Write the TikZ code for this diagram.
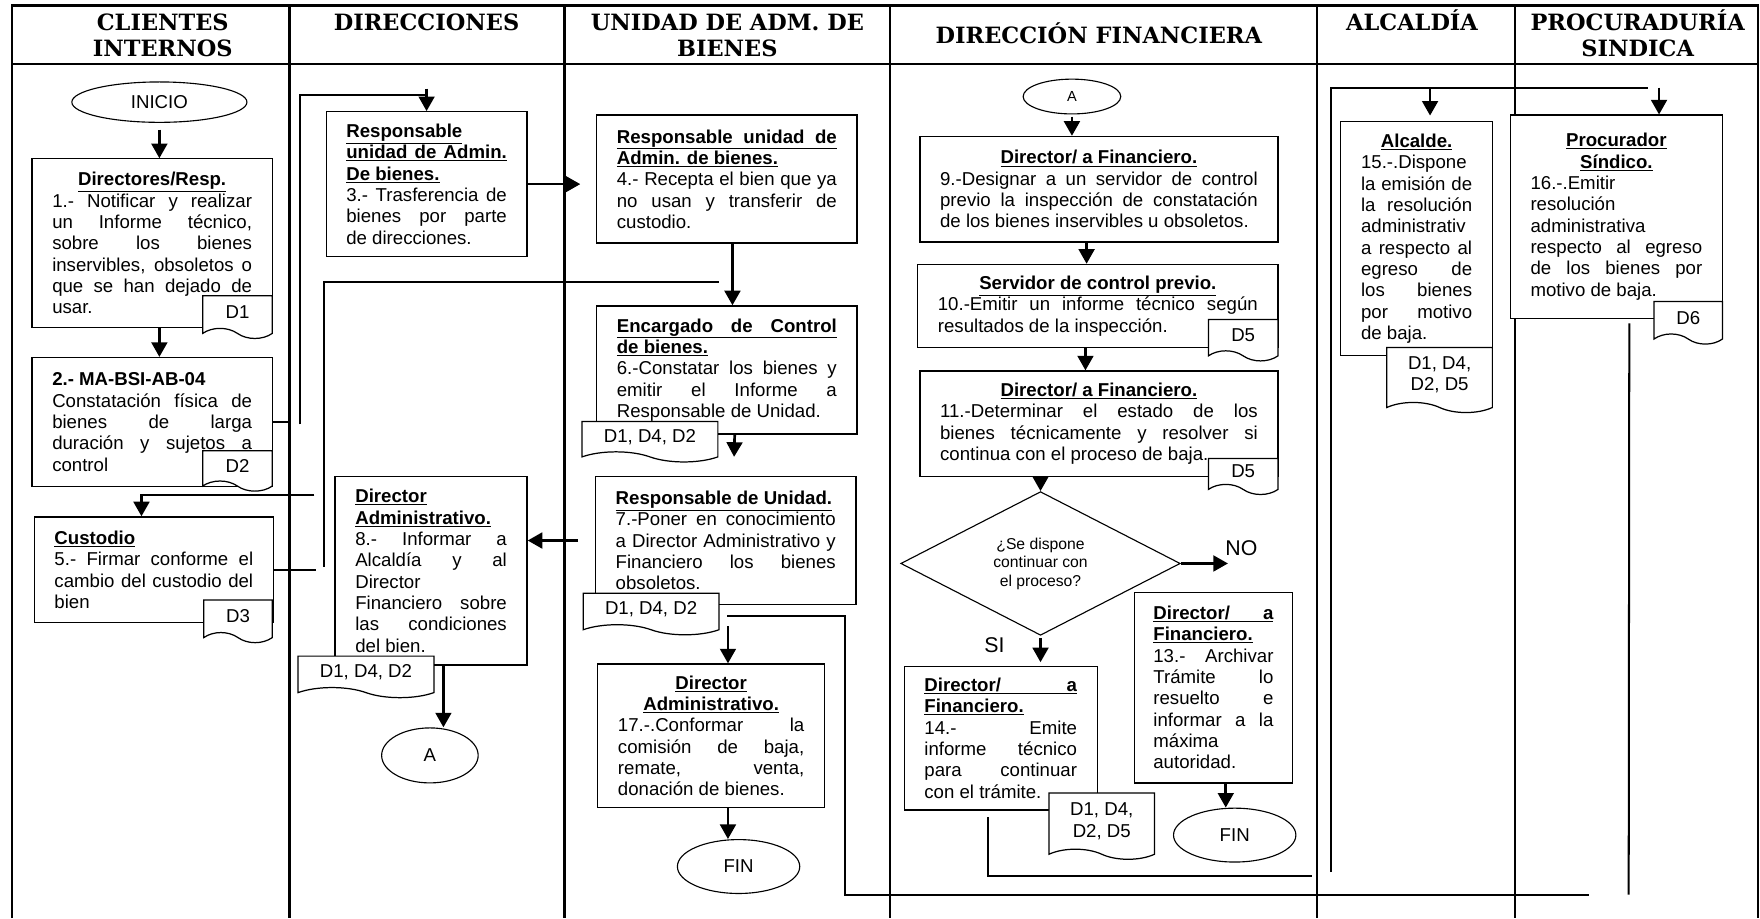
\documentclass[tikz,border=0pt]{standalone}
\usepackage{fontspec}
\setmainfont{Liberation Sans}
\newfontfamily\cabfont{DejaVu Serif}
\usetikzlibrary{
    arrows.meta,
    positioning,
    calc,
    shapes
}
\newcommand{\letra}{\fontsize{16.6pt}{19pt}\selectfont}
\newcommand{\tit}[1]{\underline{\textbf{#1}}}
\newcommand{\jl}[1]{{\spaceskip=0pt\xspaceskip=0pt\makebox[\linewidth][s]{#1}}}
\newcommand{\ctr}[1]{\makebox[\linewidth][c]{#1}}

\begin{document}
\begin{tikzpicture}[
    x=1pt, y=-1pt,
    carril/.style={line width=2pt},
    cabecera/.style={
      font=\cabfont\bfseries\fontsize{20pt}{23pt}\selectfont,
      align=center, anchor=base, inner sep=0pt
    },
    paso/.style={
      draw, line width=1.1pt, fill=white, anchor=north west,
      inner xsep=18pt, inner ysep=7pt, font=\letra,
      execute at begin node={\spaceskip=0pt\xspaceskip=0pt}
    },
    documento/.style={
      draw, line width=1.1pt, fill=white, tape,
      tape bend top=none, tape bend bottom=out and in,
      tape bend height=9pt, anchor=north west,
      align=center, inner sep=2pt, font=\letra
    },
    terminal/.style={draw, ellipse, line width=1pt, fill=white, font=\letra, inner sep=0pt},
    decision/.style={
      draw, diamond, aspect=1.95, line width=1pt,
      minimum width=249pt, minimum height=128pt, inner sep=0pt,
      align=center, font=\fontsize{14pt}{16.5pt}\selectfont
    },
    etiqueta/.style={font=\fontsize{19pt}{22pt}\selectfont, inner sep=0pt},
    flecha/.style={line width=2.4pt, -{Triangle[length=13pt, width=14pt]}},
    linea/.style={line width=1.8pt}
  ]

  \useasboundingbox (0,0) rectangle (1568,818);

  % carriles {{{
  \draw[carril] (11,818) -- (11,5) -- (1566,5) -- (1566,818);
  \draw[carril] (11,57) -- (1566,57);
  \foreach \x in {258,503,793,1173,1350}
    \draw[carril] (\x,5) -- (\x,818);

  \node[cabecera] (cab1) at (145,50) {CLIENTES\\INTERNOS};
  \node[cabecera] (cab2) at (380,27) {DIRECCIONES};
  \node[cabecera] (cab3) at (648,50) {UNIDAD DE ADM. DE\\BIENES};
  \node[cabecera] (cab4) at (979,39) {DIRECCIÓN FINANCIERA};
  \node[cabecera] (cab5) at (1258,27) {ALCALDÍA};
  \node[cabecera] (cab6) at (1459,50) {PROCURADURÍA\\SINDICA};
  % }}}

  % clientes internos {{{
  \node[terminal, minimum width=156pt, minimum height=36pt] (inicio) at (142,91) {INICIO};

  \node[paso, text width=178pt, minimum height=150pt] (caja1) at (28,141)
  {\ctr{\tit{Directores/Resp.}}\\
   \jl{1.- Notificar y realizar}\\
   \jl{un Informe técnico,}\\
   \jl{sobre los bienes}\\
   \jl{inservibles, obsoletos o}\\
   \jl{que se han dejado de}\\
   usar.};
  \node[documento, minimum width=62pt, minimum height=38pt] (doc1) at (180,263) {D1};

  \node[paso, text width=178pt, minimum height=115pt] (caja2) at (28,318)
  {\textbf{2.- MA-BSI-AB-04}\\
   \jl{Constatación física de}\\
   \jl{bienes de larga}\\
   \jl{duración y sujetos a}\\
   control};
  \node[documento, minimum width=62pt, minimum height=36pt] (doc2) at (180,401) {D2};

  \node[paso, text width=177pt, minimum height=94pt] (caja5) at (30,460)
  {\tit{Custodio}\\
   \jl{5.- Firmar conforme el}\\
   \jl{cambio del custodio del}\\
   bien};
  \node[documento, minimum width=61pt, minimum height=38pt] (doc3) at (181,534) {D3};
  % }}}

  % direcciones {{{
  \node[paso, text width=143pt, minimum height=129pt] (caja3) at (290,99)
  {\tit{Responsable}\\
   \tit{\jl{unidad de Admin.}}\\
   \tit{De bienes.}\\
   \jl{3.- Trasferencia de}\\
   \jl{bienes por parte}\\
   de direcciones.};

  \node[paso, text width=135pt, minimum height=168pt] (caja8) at (298,424)
  {\tit{Director}\\
   \tit{Administrativo.}\\
   \jl{8.- Informar a}\\
   \jl{Alcaldía y al}\\
   Director\\
   \jl{Financiero sobre}\\
   \jl{las condiciones}\\
   del bien.};
  \node[documento, minimum width=121pt, minimum height=37pt] (doc8) at (265,584) {D1, D4, D2};

  \node[terminal, minimum width=86pt, minimum height=49pt] (conA) at (383,673) {A};
  % }}}

  % unidad de adm. de bienes {{{
  \node[paso, text width=196pt, minimum height=114pt] (caja4) at (531,102)
  {\tit{\jl{Responsable unidad de}}\\
   \tit{Admin. de bienes.}\\
   \jl{4.- Recepta el bien que ya}\\
   \jl{no usan y transferir de}\\
   custodio.};

  \node[paso, text width=196pt, minimum height=114pt] (caja6) at (531,272)
  {\tit{\jl{Encargado de Control}}\\
   \tit{de bienes.}\\
   \jl{6.-Constatar los bienes y}\\
   \jl{emitir el Informe a}\\
   Responsable de Unidad.};
  \node[documento, minimum width=121pt, minimum height=36pt] (doc6) at (518,375) {D1, D4, D2};

  \node[paso, text width=196pt, minimum height=114pt] (caja7) at (530,424)
  {\tit{Responsable de Unidad.}\\
   \jl{7.-Poner en conocimiento}\\
   \jl{a Director Administrativo y}\\
   \jl{Financiero los bienes}\\
   obsoletos.};
  \node[documento, minimum width=121pt, minimum height=37pt] (doc7) at (519,528) {D1, D4, D2};

  \node[paso, text width=166pt, minimum height=128pt] (caja17) at (532,591)
  {\ctr{\tit{Director}}\\
   \ctr{\tit{Administrativo.}}\\
   \jl{17.-.Conformar la}\\
   \jl{comisión de baja,}\\
   \jl{remate, venta,}\\
   donación de bienes.};

  \node[terminal, minimum width=109pt, minimum height=48pt] (fin1) at (658,772) {FIN};
  % }}}

  % direccion financiera {{{
  \node[terminal, minimum width=87pt, minimum height=31pt,
    font=\fontsize{13pt}{15pt}\selectfont] (conA2) at (955,86) {A};

  \node[paso, text width=283pt, minimum height=94pt] (caja9) at (819,121)
  {\ctr{\tit{Director/ a Financiero.}}\\
   \jl{9.-Designar a un servidor de control}\\
   \jl{previo la inspección de constatación}\\
   de los bienes inservibles u obsoletos.};

  \node[paso, text width=285pt, minimum height=74pt] (caja10) at (817,235)
  {\ctr{\tit{Servidor de control previo.}}\\
   \jl{10.-Emitir un informe técnico según}\\
   resultados de la inspección.};
  \node[documento, minimum width=62pt, minimum height=37pt] (doc10) at (1076,284) {D5};

  \node[paso, text width=283pt, minimum height=94pt] (caja11) at (819,330)
  {\ctr{\tit{Director/ a Financiero.}}\\
   \jl{11.-Determinar el estado de los}\\
   \jl{bienes técnicamente y resolver si}\\
   continua con el proceso de baja.};
  \node[documento, minimum width=62pt, minimum height=32pt] (doc11) at (1076,408) {D5};

  \node[decision] (dec) at (927,502) {¿Se dispone\\continuar con\\el proceso?};
  \node[etiqueta] (etqNO) at (1106,488) {NO};
  \node[etiqueta] (etqSI) at (886,575) {SI};
  \coordinate (salNO) at (1094,502);

  \node[paso, text width=136pt, minimum height=128pt] (caja14) at (805,593)
  {\tit{\jl{Director/ a}}\\
   \tit{Financiero.}\\
   \jl{14.- Emite}\\
   \jl{informe técnico}\\
   \jl{para continuar}\\
   con el trámite.};
  \node[documento, minimum width=94pt, minimum height=59pt] (doc14) at (934,706) {D1, D4,\\D2, D5};

  \node[paso, text width=107pt, minimum height=170pt, inner xsep=17pt] (caja13) at (1010,527)
  {\tit{\jl{Director/ a}}\\
   \tit{Financiero.}\\
   \jl{13.- Archivar}\\
   \jl{Trámite lo}\\
   \jl{resuelto e}\\
   \jl{informar a la}\\
   máxima\\
   autoridad.};

  \node[terminal, minimum width=109pt, minimum height=48pt] (fin2) at (1100,744) {FIN};
  % }}}

  % alcaldia y procuraduria {{{
  \node[paso, text width=99pt, minimum height=208pt] (caja15) at (1194,108)
  {\ctr{\tit{Alcalde.}}\\
   15.-.Dispone\\
   \jl{la emisión de}\\
   \jl{la resolución}\\
   administrativ\\
   \jl{a respecto al}\\
   \jl{egreso de}\\
   \jl{los bienes}\\
   \jl{por motivo}\\
   de baja.};
  \node[documento, minimum width=94pt, minimum height=58pt] (doc15) at (1235,309) {D1, D4,\\D2, D5};

  \node[paso, text width=153pt, minimum height=181pt] (caja16) at (1345,102)
  {\ctr{\tit{Procurador}}\\
   \ctr{\tit{Síndico.}}\\
   16.-.Emitir\\
   resolución\\
   administrativa\\
   \jl{respecto al egreso}\\
   \jl{de los bienes por}\\
   motivo de baja.};
  \node[documento, minimum width=61pt, minimum height=38pt] (doc16) at (1473,268) {D6};
  % }}}

  % conectores {{{
  \coordinate (giro1) at (267,378);
  \coordinate (giro2) at (289,505);
  \coordinate (giro3) at (280,441);
  \coordinate (finA) at (1169,780);
  \coordinate (finB) at (1416,797);
  \coordinate (alcA) at (1186,777);
  \coordinate (alcB) at (1468,78);
  \coordinate (proB) at (1451,797);

  \draw[flecha, shorten <=6pt] (inicio.south) -- (inicio.south |- caja1.north);
  \draw[flecha] (caja1.south -| inicio) -- (caja2.north -| inicio);
  \draw[linea] (caja2.east) -- ++(16,0);
  \draw[linea] (giro1) |- ([yshift=14pt]caja3.north);
  \draw[flecha] ([yshift=20pt]caja3.north) -- (caja3.north);
  \draw[flecha, shorten >=14pt] (caja3.east) -- (caja3.east -| caja4.west);
  \draw[flecha] ([xshift=5pt]caja4.south) -- ([xshift=5pt]caja6.north);
  \draw[linea] (giro2) |- ([xshift=-7pt, yshift=21pt]caja6.north);
  \draw[flecha, shorten >=17pt] ([xshift=7pt]caja6.south) -- ([xshift=7pt]caja7.north);
  \draw[flecha, shorten <=15pt] (caja7.west) -- (caja7.west -| caja8.east);
  \draw[flecha] ([xshift=11pt]caja8.south) -- ([xshift=11pt]caja8.south |- conA.north);
  \draw[linea] (caja5.east) -- ++(37,0);
  \draw[flecha] (giro3) -| ([xshift=-11pt]caja5.north);
  \draw[flecha] ([xshift=15pt, yshift=33pt]caja17.north) -- ([xshift=15pt]caja17.north);
  \draw[linea] ([xshift=7pt, yshift=-6pt]doc7.east) -- ++(105,0) |- (finB);
  \draw[flecha] ([xshift=15pt]caja17.south) -- ([xshift=15pt]caja17.south |- fin1.north);

  \draw[flecha, shorten <=2pt] (conA2.south) -- (conA2.south |- caja9.north);
  \draw[flecha] ([xshift=-11pt]caja9.south) -- ([xshift=-11pt]caja9.south |- caja10.north);
  \draw[flecha] ([xshift=-11pt]caja10.south) -- ([xshift=-11pt]caja10.south |- caja11.north);
  \draw[flecha] (caja11.south -| dec.north) -- (dec.north);
  \draw[flecha] (dec.east) -- (salNO);
  \draw[flecha, shorten <=2pt, shorten >=3pt] (dec.south) -- (dec.south |- caja14.north);
  \draw[flecha] ([xshift=11pt]caja13.south) -- ([xshift=11pt]caja13.south |- fin2.north);
  \draw[linea] ([xshift=-11pt, yshift=-6pt]caja14.south) |- (finA);

  \draw[linea] (alcA) |- (alcB);
  \draw[flecha] ([xshift=12pt]caja15.north |- alcB) -- ([xshift=12pt, yshift=5pt]caja15.north);
  \draw[flecha] ([xshift=38pt]caja16.north |- alcB) -- ([xshift=38pt]caja16.north);
  \draw[linea] ([xshift=11.5pt, yshift=-4pt]caja16.south) -- (proB);
  % }}}

\end{tikzpicture}
\end{document}
